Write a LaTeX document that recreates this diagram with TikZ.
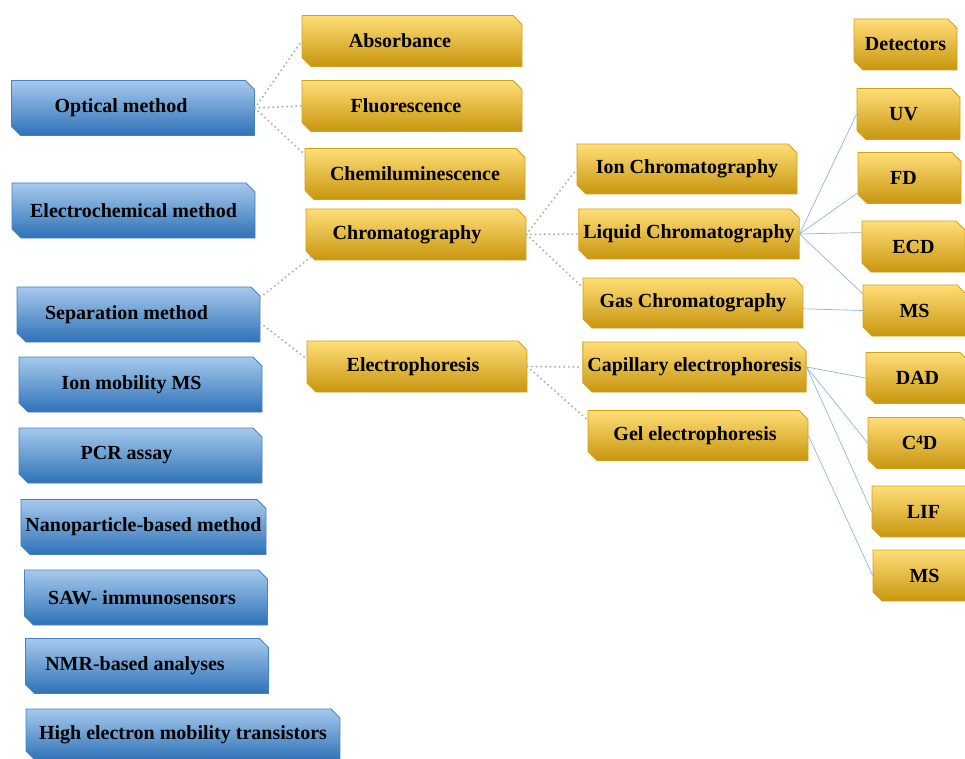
\documentclass[tikz,border=0pt]{standalone}
\usepackage{fontspec}
\setmainfont{Liberation Serif}
\usepackage{xcolor}
\usepackage{tikz}
\usetikzlibrary{shapes.misc}
\definecolor{bluetop}{RGB}{166, 201, 236}
\definecolor{bluebot}{RGB}{46, 114, 184}
\definecolor{blueedge}{RGB}{70, 130, 195}
\definecolor{goldtop}{RGB}{255, 222, 120}
\definecolor{goldbot}{RGB}{200, 150, 15}
\definecolor{goldedge}{RGB}{212, 160, 25}
\definecolor{linkblue}{RGB}{140, 182, 228}
\newcommand{\nudge}[1]{\hspace*{#1}}

\begin{document}
\begin{tikzpicture}[x=1pt,y=-1pt,
    box/.style={chamfered rectangle, chamfered rectangle corners={north east,south west},
        chamfered rectangle xsep=4.5pt, chamfered rectangle ysep=4.5pt, inner sep=0pt,
        font=\fontsize{20}{24}\selectfont\bfseries, text=black, line width=0.8pt},
    method/.style={box, draw=blueedge, top color=bluetop, bottom color=bluebot,
        minimum width=243pt, minimum height=55pt},
    tech/.style={box, draw=goldedge, top color=goldtop, bottom color=goldbot,
        minimum width=220pt, minimum height=51pt},
    detbox/.style={tech, minimum width=103pt},
    dots/.style={gray!60, line width=2.3pt, line cap=round, dash pattern=on 0pt off 4.6pt},
    link/.style={linkblue, line width=0.7pt}]
    \useasboundingbox (0,0) rectangle (965,759);
    % methods
    \node[method] (opt)  at (133,108)   {\nudge{-24pt}Optical method};
    \node[method] (elec) at (133.5,210.5) {Electrochemical method};
    \node[method] (sep)  at (138.5,314.5) {\nudge{-24pt}Separation method};
    \node[method] (ims)  at (140.5,384.5) {\nudge{-18pt}Ion mobility MS};
    \node[method] (pcr)  at (140.5,455.5) {\nudge{-28pt}PCR assay};
    \node[method] (nano) at (143.5,527)   {Nanoparticle-based method};
    \node[method] (saw)  at (146,597.5)   {\nudge{-8pt}SAW- immunosensors};
    \node[method] (nmr)  at (147,666)     {\nudge{-24pt}NMR-based analyses};
    \node[method, minimum width=314pt, minimum height=51pt] (hemt) at (183,734.5)
        {High electron mobility transistors};
    % techniques
    \node[tech] (abs)   at (412,41)    {\nudge{-24pt}Absorbance};
    \node[tech] (flu)   at (412,106)   {\nudge{-12pt}Fluorescence};
    \node[tech] (chemi) at (415,174)   {Chemiluminescence};
    \node[tech] (chrom) at (416,234.5) {\nudge{-18pt}Chromatography};
    \node[tech] (ephor) at (417,366.5) {\nudge{-8pt}Electrophoresis};
    \node[tech, minimum height=50pt] (ionc) at (687,169)   {Ion Chromatography};
    \node[tech, minimum height=50pt] (liqc) at (689,234)   {Liquid Chromatography};
    \node[tech, minimum height=50pt] (gasc) at (693,303)   {Gas Chromatography};
    \node[tech, minimum height=50pt] (cape) at (694.5,367) {Capillary electrophoresis};
    \node[tech, minimum height=50pt] (gele) at (698,435.5) {\nudge{-6pt}Gel electrophoresis};
    % detectors
    \node[detbox] (det) at (905.5,44.5) {Detectors};
    \node[detbox] (uv)  at (908.5,114)  {\nudge{-10pt}UV};
    \node[detbox] (fd)  at (909.5,178)  {\nudge{-12pt}FD};
    \node[detbox] (ecd) at (913.5,246.5) {ECD};
    \node[detbox] (ms1) at (914.5,310.5) {MS};
    \node[detbox] (dad) at (917.5,378)  {DAD};
    \node[detbox] (ccd) at (919.5,443)  {C\raisebox{0.55ex}{\fontsize{13}{13}\selectfont 4}D};
    \node[detbox] (lif) at (923.5,511.5) {LIF};
    \node[detbox] (ms2) at (924.5,575.5) {MS};
    % dotted links
    \draw[dots] (opt.east) -- (abs.west);
    \draw[dots] (opt.east) -- (flu.west);
    \draw[dots] (opt.east) -- (chemi.170);
    \draw[dots] (sep.8) -- (chrom.192);
    \draw[dots] (sep.-4) -- (ephor.176);
    \draw[dots] (chrom.east) -- (ionc.west);
    \draw[dots] (chrom.east) -- (liqc.west);
    \draw[dots] (chrom.east) -- (gasc.172);
    \draw[dots] (ephor.east) -- (cape.west);
    \draw[dots] (ephor.east) -- (gele.172);
    % detector links
    \draw[link] (liqc.east) -- (uv.west);
    \draw[link] (liqc.east) -- (fd.196);
    \draw[link] (liqc.east) -- (ecd.165);
    \draw[link] (liqc.east) -- (ms1.162);
    \draw[link] (gasc.-3) -- (ms1.west);
    \draw[link] (cape.east) -- (dad.west);
    \draw[link] (cape.east) -- (ccd.west);
    \draw[link] (cape.east) -- (lif.west);
    \draw[link] (gele.east) -- (ms2.west);
\end{tikzpicture}
\end{document}
